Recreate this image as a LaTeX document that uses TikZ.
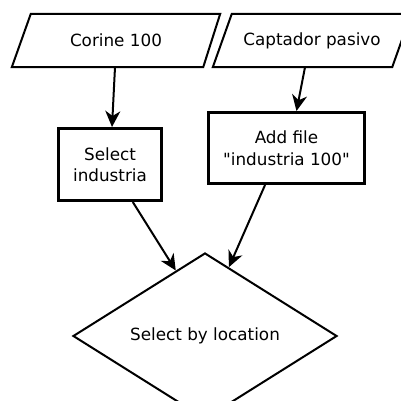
\documentclass[tikz,border=0pt]{standalone}
\usepackage{fontspec}
\newfontfamily\labelfont{DejaVu Sans}
\usetikzlibrary{shapes.geometric,arrows.meta,calc}

\tikzset{
  lbl/.style={font=\labelfont\fontsize{16.8}{21.5}\selectfont, align=center, text=black},
  iobox/.style={lbl, inner sep=0pt, minimum height=53pt},
  iopath/.style={line width=2pt, line join=miter},
  procbox/.style={lbl, draw, line width=3pt, inner sep=0pt},
  decision/.style={lbl, draw, diamond, line width=2pt, inner sep=0pt,
    minimum width=264pt, minimum height=128pt},
  flow/.style={line width=2pt, -{Stealth[length=16pt,width=15pt,inset=5pt]}}
}

\begin{document}
\begin{tikzpicture}[x=1pt,y=-1pt]
  \useasboundingbox (0,0) rectangle (401,400);
  \clip (0,0) rectangle (401,400);

  % input parallelograms
  \node[iobox, minimum width=208pt] (corine) at (116,40.5) {Corine 100};
  \draw[iopath] ([xshift=19pt]corine.north west) -- (corine.north east)
    -- ([xshift=-17pt]corine.south east) -- (corine.south west) -- cycle;

  \node[iobox, minimum width=198pt] (captador) at (312,40.5) {Captador pasivo};
  \draw[iopath] ([xshift=19pt]captador.north west) -- (captador.north east)
    -- ([xshift=-19pt]captador.south east) -- (captador.south west) -- cycle;

  % process boxes
  \node[procbox, minimum width=103pt, minimum height=72pt] (select) at (110,164.5)
    {Select\\industria};
  \node[procbox, minimum width=156pt, minimum height=71pt] (addfile) at (286.5,148)
    {Add file\\"industria 100"};

  % decision
  \node[decision] (byloc) at (205,336) {Select by location};

  % connectors
  \draw[flow] ([xshift=-1pt]corine.south) -- ([xshift=2pt]select.north);
  \draw[flow] ([xshift=-7pt]captador.south) -- ([xshift=10pt]addfile.north);
  \draw[flow] ($(select.south)!0.43!(select.south east)$)
    -- ($(byloc.north)!0.22!(byloc.west)$);
  \draw[flow] ($(addfile.south)!0.27!(addfile.south west)$)
    -- ($(byloc.north)!0.18!(byloc.east)$);
\end{tikzpicture}
\end{document}
